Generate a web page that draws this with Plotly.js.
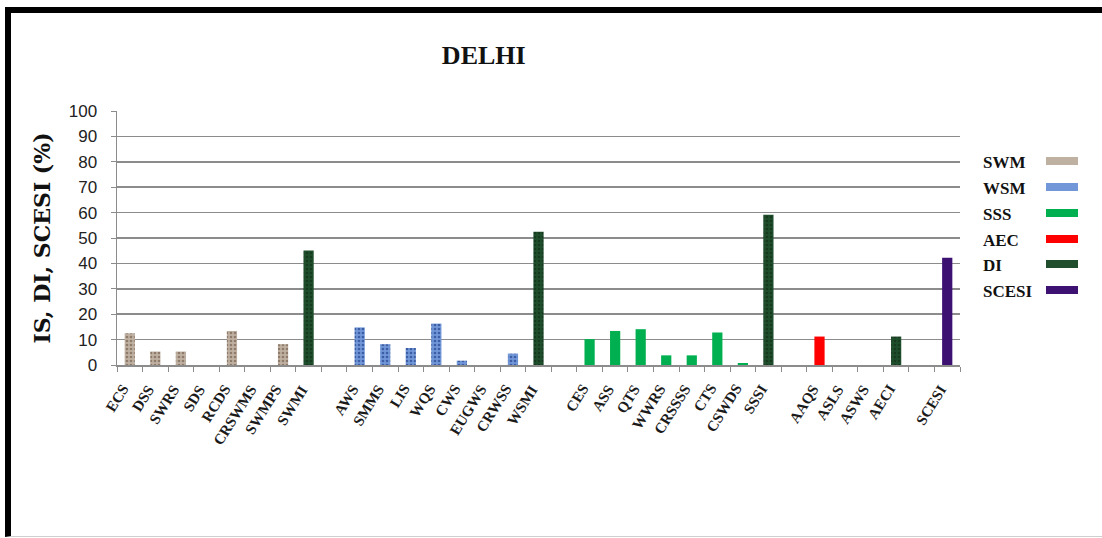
<!DOCTYPE html>
<html>
<head>
<meta charset="utf-8">
<script src="https://cdn.plot.ly/plotly-3.0.1.min.js"></script>
<style>
  html, body { margin: 0; padding: 0; background: #fff; }
  #wrap { position: relative; width: 1102px; height: 538px; overflow: hidden; }
  #chart { position: absolute; left: 0; top: 0; width: 1102px; height: 538px; }
  #frame { position: absolute; left: 5px; top: 7px; width: 1097px; height: 530px;
           border-top: 6px solid #000; border-left: 6px solid #000; border-bottom: 1px solid #cfcfcf;
           box-sizing: border-box; pointer-events: none; }
</style>
</head>
<body>
<div id="wrap"><div id="chart"></div><div id="frame"></div></div>
<script>
// ---- data ----
const categories = ['ECS','DSS','SWRS','SDS','RCDS','CRSWMS','SWMPS','SWMI',' ',
  'AWS','SMMS','LIS','WQS','CWS','EUGWS','CRWSS','WSMI','  ',
  'CES','ASS','QTS','WWRS','CRSSSS','CTS','CSWDS','SSSI','   ',
  'AAQS','ASLS','ASWS','AECI','    ','SCESI'];

const swmCats = ['ECS','DSS','SWRS','SDS','RCDS','CRSWMS','SWMPS'];
const swmVals = [12.5, 5.3, 5.3, 0, 13.4, 0, 8.2];

const wsmCats = ['AWS','SMMS','LIS','WQS','CWS','EUGWS','CRWSS'];
const wsmVals = [14.8, 8.2, 6.7, 16.3, 1.7, 0, 4.5];

const sssCats = ['CES','ASS','QTS','WWRS','CRSSSS','CTS','CSWDS'];
const sssVals = [10.2, 13.4, 14.1, 3.8, 3.8, 12.8, 0.8];

const aecCats = ['AAQS','ASLS','ASWS'];
const aecVals = [11.2, 0, 0];

const diCats = ['SWMI','WSMI','SSSI','AECI'];
const diVals = [45.1, 52.5, 59.2, 11.2];

const scesiCats = ['SCESI'];
const scesiVals = [42.2];

const seriesNames = ['SWM','WSM','SSS','AEC','DI','SCESI'];
const yTickVals = [0,10,20,30,40,50,60,70,80,90,100];

// ---- styles ----
const colors = {
  SWM: {bg: '#bfb1a2', fg: '#8e7b69'},
  WSM: {bg: '#7197d8', fg: '#3d5ea6'},
  SSS: {bg: '#00b050', fg: '#00b050'},
  AEC: {bg: '#ff0000', fg: '#ff0000'},
  DI:  {bg: '#1f4e2c', fg: '#163a20'},
  SCESI: {bg: '#3d1172', fg: '#3d1172'}
};

function barTrace(name, x, y, pattern) {
  const c = colors[name];
  const t = {
    type: 'bar', name: name, x: x, y: y, width: 0.4,
    marker: {color: c.bg, line: {width: 0}},
    showlegend: false, hoverinfo: 'x+y'
  };
  if (pattern) {
    t.marker.pattern = {shape: pattern, bgcolor: c.bg, fgcolor: c.fg, size: 4, solidity: 0.35};
  }
  return t;
}

const traces = [
  {type: 'scatter', mode: 'markers', x: categories, y: categories.map(() => 0),
   marker: {opacity: 0, size: 1}, showlegend: false, hoverinfo: 'skip'},
  barTrace('SWM', swmCats, swmVals, '.'),
  barTrace('WSM', wsmCats, wsmVals, '.'),
  barTrace('SSS', sssCats, sssVals, ''),
  barTrace('AEC', aecCats, aecVals, ''),
  barTrace('DI', diCats, diVals, '.'),
  barTrace('SCESI', scesiCats, scesiVals, '')
];

// ---- layout geometry ----
const W = 1102, H = 538;
const M = {l: 117, r: 142, t: 111, b: 173};
const PW = W - M.l - M.r, PH = H - M.t - M.b;
const px = v => (v - M.l) / PW;
const py = v => (H - M.b - v) / PH;

const shapes = [];
const annotations = [];

// rotated category labels (drawn as annotations on the category axis)
categories.forEach(c => {
  if (!c.trim()) return;
  annotations.push({
    xref: 'x', yref: 'y', x: c, y: 0, xanchor: 'right', yanchor: 'top',
    xshift: 5, yshift: -14, textangle: -58, showarrow: false,
    text: '<b>' + c + '</b>',
    font: {family: 'Liberation Serif, serif', size: 15, color: '#1a1a1a'}
  });
});

// custom legend (text left, swatch right)
const legendY = [162, 188, 214, 240, 265, 291];
seriesNames.forEach((n, i) => {
  annotations.push({
    xref: 'paper', yref: 'paper', x: px(981), y: py(legendY[i]),
    xanchor: 'left', yanchor: 'middle', showarrow: false, text: '<b>' + n + '</b>',
    font: {family: 'Liberation Serif, serif', size: 17, color: '#111'}
  });
  shapes.push({
    type: 'rect', xref: 'paper', yref: 'paper',
    x0: px(1046), x1: px(1078), y0: py(legendY[i] + 3), y1: py(legendY[i] - 5),
    fillcolor: colors[n].bg, line: {width: 0}
  });
});

const layout = {
  width: W, height: H,
  margin: M,
  paper_bgcolor: 'rgba(0,0,0,0)', plot_bgcolor: '#fff',
  barmode: 'overlay',
  title: {text: '<b>DELHI</b>', x: 0.439, xanchor: 'center', y: 0.898, yanchor: 'middle',
          font: {family: 'Liberation Serif, serif', size: 26, color: '#111'}},
  xaxis: {
    type: 'category', categoryorder: 'array', categoryarray: categories,
    range: [-0.5, categories.length - 0.5],
    showline: true, linecolor: '#8c8c8c', linewidth: 1.5,
    ticks: 'outside', tickson: 'boundaries', ticklen: 5, tickcolor: '#8c8c8c', tickwidth: 1,
    showticklabels: false, showgrid: false, zeroline: false
  },
  yaxis: {
    range: [0, 100], tickvals: yTickVals, ticktext: yTickVals.map(String),
    showline: true, linecolor: '#8c8c8c', linewidth: 1.5,
    showgrid: true, gridcolor: '#8c8c8c', gridwidth: 1.5, zeroline: false,
    ticks: 'outside', ticklen: 5, tickcolor: '#8c8c8c', ticklabelstandoff: 10,
    tickfont: {family: 'Liberation Sans, sans-serif', size: 17, color: '#222'},
    title: {text: '<b>IS, DI, SCESI (%)</b>', standoff: 12,
            font: {family: 'DejaVu Serif, serif', size: 22, color: '#111'}}
  },
  shapes: shapes,
  annotations: annotations,
  showlegend: false
};

Plotly.newPlot('chart', traces, layout, {displayModeBar: false, staticPlot: true});
</script>
</body>
</html>
